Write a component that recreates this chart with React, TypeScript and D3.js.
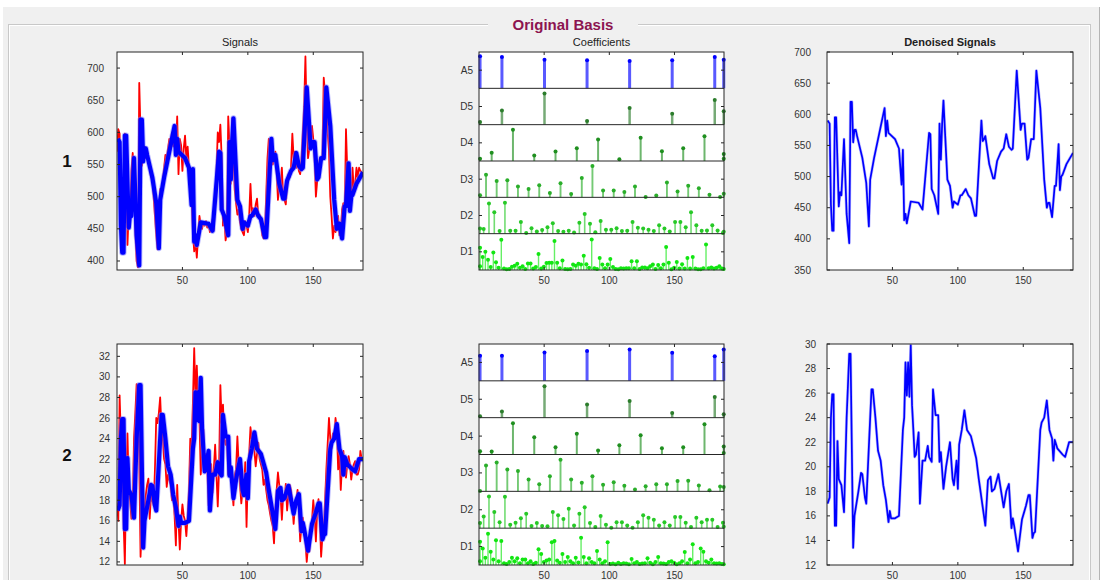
import React from "react";
import * as d3 from "d3";

// ---- data ----
const xTicks = [50, 100, 150];
const xDomain = [0, 188];

const sig1Ticks = [400, 450, 500, 550, 600, 650, 700];
const sig1Domain = [386, 725];
const den1Ticks = [350, 400, 450, 500, 550, 600, 650, 700];
const den1Domain = [350, 700];

const sig2Ticks = [12, 14, 16, 18, 20, 22, 24, 26, 28, 30, 32];
const sig2Domain = [11.7, 33.2];
const den2Ticks = [12, 14, 16, 18, 20, 22, 24, 26, 28, 30];
const den2Domain = [12, 30];

// original (noisy) signals, one value per sample
const signal1 = [
  570, 605, 598, 470, 418, 430, 598, 585, 425, 478,
  462, 540, 568, 540, 445, 400, 390, 677, 600, 548,
  565, 578, 560, 572, 555, 545, 530, 528, 500, 470,
  440, 418, 470, 512, 500, 525, 545, 565, 560, 575,
  590, 585, 600, 578, 605, 570, 625, 535, 590, 580,
  540, 575, 595, 560, 578, 545, 520, 500, 445, 415,
  430, 405, 440, 470, 455, 450, 460, 455, 462, 452,
  458, 445, 450, 465, 448, 500, 540, 600, 585, 612,
  560, 455, 470, 432, 445, 625, 580, 520, 622, 560,
  510, 490, 472, 480, 460, 450, 445, 440, 462, 455,
  445, 470, 520, 475, 482, 470, 488, 497, 470, 472,
  460, 440, 435, 445, 500, 560, 590, 580, 575, 550,
  560, 570, 540, 495, 520, 510, 545, 500, 495, 488,
  520, 535, 530, 545, 598, 560, 570, 545, 555, 540,
  535, 560, 600, 640, 718, 620, 560, 575, 580, 610,
  590, 560, 500, 525, 540, 560, 555, 565, 685, 660,
  640, 600, 572, 500, 470, 435, 455, 445, 460, 470,
  440, 445, 480, 490, 470, 605, 540, 485, 500, 495,
  545, 510, 520, 545, 530, 545, 540, 538,
];

const signal2 = [
  17.7, 16.0, 28.2, 24.0, 26.0, 16.0, 11.8, 20.0, 24.5, 19.0,
  18.0, 16.2, 17.5, 24.0, 26.5, 29.3, 28.5, 22.0, 12.5, 15.5,
  16.0, 17.0, 18.5, 19.5, 20.1, 16.2, 18.5, 18.0, 17.5, 21.0,
  26.0, 25.5, 26.5, 28.0, 25.0, 24.0, 22.0, 21.5, 19.3, 20.5,
  20.0, 19.5, 18.0, 18.5, 16.5, 13.6, 19.5, 16.0, 13.2, 16.0,
  17.6, 16.5, 16.0, 14.5, 16.5, 19.0, 24.0, 23.0, 27.5, 32.8,
  28.0, 31.1, 27.0, 26.0, 20.5, 22.0, 24.9, 21.0, 22.5, 21.0,
  17.5, 20.0, 21.5, 18.7, 21.0, 23.4, 20.5, 17.4, 21.0, 29.2,
  25.5, 27.3, 24.0, 23.4, 24.0, 20.5, 21.0, 21.3, 19.0, 17.5,
  20.5, 21.0, 24.2, 21.5, 19.5, 17.7, 19.0, 18.5, 21.7, 15.4,
  20.5, 22.5, 25.1, 24.0, 24.5, 22.8, 21.3, 22.5, 23.6, 22.0,
  21.5, 21.0, 19.5, 20.0, 19.0, 18.0, 17.5, 16.7, 16.0, 15.5,
  13.8, 17.0, 19.0, 20.7, 19.5, 18.5, 16.1, 18.5, 18.0, 19.6,
  17.0, 18.5, 19.5, 19.0, 17.5, 15.7, 17.5, 18.0, 19.0, 17.0,
  14.0, 15.5, 16.3, 15.0, 14.0, 12.0, 13.5, 13.0, 15.0, 16.0,
  18.0, 16.5, 14.0, 17.0, 18.1, 16.0, 12.5, 14.5, 15.0, 18.0,
  21.0, 23.5, 26.0, 24.0, 23.0, 24.5, 24.0, 26.0, 25.0, 21.0,
  23.0, 19.0, 21.5, 22.8, 21.0, 20.2, 21.5, 22.3, 21.5, 20.0,
  21.0, 21.5, 21.8, 20.5, 20.5, 21.0, 22.8, 22.0,
];

// denoised signals, [sample, value] vertices
const denoised1: [number, number][] = [
  [0.5, 590], [2, 585], [3, 455], [4, 413], [5, 413], [6, 595], [7, 595], [9, 452],
  [10, 475], [11, 470], [13, 560], [15, 440], [17, 393], [18, 620], [19, 620], [20, 555],
  [21, 575], [22, 575], [23, 565], [27, 530], [30, 490], [32, 420], [33, 495], [36, 530],
  [40, 570], [44, 610], [45, 565], [46, 590], [47, 570], [52, 560], [55, 545], [57, 487],
  [58, 543], [59, 430], [60, 440], [61, 425], [64, 460], [70, 458], [73, 447], [78, 570],
  [79, 568], [80, 480], [82, 470], [85, 440], [86, 585], [87, 527], [88, 585], [89, 622],
  [92, 495], [94, 485], [96, 450], [97, 460], [100, 455], [102, 470], [103, 470], [106, 480],
  [108, 470], [110, 465], [113, 437], [114, 437], [118, 590], [119, 557], [120, 560], [121, 565],
  [124, 520], [127, 497], [128, 497], [130, 525], [133, 540], [135, 545], [137, 568], [139, 548],
  [141, 543], [142, 545], [145, 670], [148, 575], [149, 585], [151, 585], [153, 527], [154, 530],
  [156, 560], [158, 560], [160, 670], [163, 610], [166, 495], [168, 450], [169, 458], [170, 458],
  [172, 435], [174, 485], [175, 485], [177, 552], [178, 478], [179, 500], [180, 503], [183, 520],
  [188, 538],
];

const denoised2: [number, number][] = [
  [0.5, 17.0], [2, 17.5], [3, 24.0], [4, 25.9], [5, 25.9], [6, 15.2], [7, 15.2], [8, 22.1],
  [9, 19.0], [11, 18.5], [13, 16.3], [15, 24.0], [17, 29.2], [18, 29.2], [20, 13.4], [21, 16.0],
  [24, 18.0], [26, 19.5], [27, 19.4], [29, 17.5], [30, 17.0], [34, 26.3], [35, 26.3], [37, 24.0],
  [39, 21.3], [41, 20.5], [43, 18.5], [45, 17.3], [47, 15.5], [48, 16.4], [49, 15.8], [52, 15.8],
  [55, 16.0], [58, 23.0], [59, 24.0], [60, 28.5], [61, 25.8], [62, 28.5], [63, 25.7], [64, 29.9],
  [65, 25.0], [66, 23.0], [67, 20.8], [68, 21.0], [70, 22.8], [71, 17.0], [73, 20.5], [75, 20.5],
  [77, 21.7], [78, 20.8], [80, 20.4], [81, 26.3], [83, 24.2], [85, 24.2], [86, 20.4], [87, 21.2],
  [89, 18.2], [91, 20.0], [94, 22.0], [96, 19.0], [97, 18.5], [99, 20.5], [100, 18.2], [101, 21.8],
  [103, 23.0], [105, 24.6], [107, 23.0], [110, 22.5], [114, 20.7], [116, 19.0], [121, 15.2], [123, 18.9],
  [125, 19.2], [126, 18.0], [128, 18.2], [131, 19.4], [135, 16.7], [137, 18.0], [139, 18.6], [141, 15.0],
  [142, 15.8], [143, 15.2], [146, 13.1], [149, 15.7], [152, 16.8], [154, 17.7], [155, 17.7], [157, 14.2],
  [158, 14.6], [159, 14.7], [163, 23.0], [164, 23.6], [166, 24.0], [168, 25.4], [170, 23.0], [172, 22.3],
  [173, 20.5], [174, 22.2], [176, 21.5], [180, 21.0], [182, 20.8], [185, 22.0], [188, 22.0],
];

// wavelet coefficient magnitudes, relative to each row's height
const levelNames = ["A5", "D5", "D4", "D3", "D2", "D1"];

const a5Coef1 = [0.88, 0.86, 0.79, 0.77, 0.75, 0.77, 0.86, 0.79];
const d5Coef1 = [0.07, 0.39, 0.86, 0.1, 0.46, 0.3, 0.68, 0.37];
const d4Coef1 = [0.06, 0.23, 0.86, 0.15, 0.26, 0.35, 0.59, 0.05, 0.64, 0.27, 0.35, 0.68, 0.19, 0.06];
const d3Coef1 = [
  0.06, 0.62, 0.45, 0.47, 0.3, 0.23, 0.33, 0.12, 0.39, 0.09, 0.53, 0.86, 0.19,
  0.19, 0.15, 0.3, 0.01, 0.05, 0.41, 0.16, 0.32, 0.25, 0.07, 0.01, 0.1,
];
const d2Coef1 = [
  0.14, 0.13, 0.83, 0.59, 0.07, 0.85, 0.08, 0.08, 0.32, 0.02, 0.15, 0.06, 0.1, 0.18, 0.29, 0.07,
  0.05, 0.08, 0.03, 0.3, 0.54, 0.27, 0.04, 0.35, 0.11, 0.11, 0.15, 0.07, 0.08, 0.32, 0.16, 0.14,
  0.11, 0.07, 0.23, 0.14, 0.06, 0.32, 0.32, 0.18, 0.59, 0.23, 0.08, 0.09, 0.23, 0.09, 0.02, 0.05,
];
const d1Coef1 = [
  0.1, 0.61, 0.36, 0.5, 0.28, 0.08, 0.48, 0.21, 0.06, 0.83, 0.04, 0.02, 0.03, 0.09, 0.12, 0.17,
  0.06, 0.1, 0.03, 0.18, 0.18, 0.04, 0.08, 0.44, 0.04, 0.09, 0.19, 0.2, 0.2, 0.8, 0.2, 0.05,
  0.26, 0.03, 0.02, 0.03, 0.15, 0.12, 0.17, 0.15, 0.39, 0.16, 0.06, 0.84, 0.05, 0.03, 0.33, 0.15,
  0.05, 0.15, 0.3, 0.08, 0.03, 0.02, 0.05, 0.04, 0.05, 0.05, 0.24, 0.05, 0.24, 0.03, 0.07, 0.07,
  0.05, 0.1, 0.15, 0.03, 0.14, 0.05, 0.15, 0.63, 0.2, 0.02, 0.06, 0.22, 0.04, 0.16, 0.04, 0.33,
  0.04, 0.36, 0.04, 0.02, 0.02, 0.05, 0.7, 0.05, 0.07, 0.04, 0.06, 0.1, 0.04, 0.03,
];

const a5Coef2 = [0.68, 0.68, 0.77, 0.81, 0.85, 0.76, 0.67, 0.85];
const d5Coef2 = [0.04, 0.17, 0.85, 0.36, 0.45, 0.13, 0.56, 0.09];
const d4Coef2 = [0.09, 0.08, 0.85, 0.47, 0.2, 0.56, 0.11, 0.25, 0.52, 0.17, 0.2, 0.82, 0.22, 0.04];
const d3Coef2 = [
  0.01, 0.7, 0.78, 0.59, 0.55, 0.32, 0.19, 0.41, 0.86, 0.32, 0.23, 0.41, 0.18,
  0.25, 0.15, 0.05, 0.14, 0.19, 0.19, 0.28, 0.29, 0.16, 0.03, 0.13, 0.12,
];
const d2Coef2 = [
  0.14, 0.32, 0.86, 0.44, 0.16, 0.85, 0.09, 0.15, 0.27, 0.39, 0.06, 0.14, 0.06, 0.05, 0.44, 0.35,
  0.25, 0.53, 0.07, 0.39, 0.57, 0.14, 0.03, 0.33, 0.09, 0.01, 0.16, 0.16, 0.07, 0.01, 0.16, 0.35,
  0.28, 0.23, 0.07, 0.16, 0.07, 0.3, 0.3, 0.15, 0.03, 0.28, 0.16, 0.23, 0.23, 0.03, 0.15, 0.04,
];
const d1Coef2 = [
  0.1, 0.63, 0.45, 0.2, 0.85, 0.36, 0.15, 0.67, 0.1, 0.65, 0.05, 0.03, 0.08, 0.2, 0.1, 0.18,
  0.05, 0.15, 0.15, 0.05, 0.1, 0.03, 0.06, 0.43, 0.3, 0.08, 0.12, 0.15, 0.62, 0.65, 0.12, 0.06,
  0.3, 0.08, 0.22, 0.1, 0.05, 0.2, 0.07, 0.74, 0.22, 0.05, 0.18, 0.08, 0.05, 0.38, 0.15, 0.05,
  0.1, 0.62, 0.03, 0.04, 0.02, 0.06, 0.03, 0.05, 0.04, 0.02, 0.16, 0.05, 0.08, 0.03, 0.04, 0.05,
  0.18, 0.06, 0.02, 0.08, 0.22, 0.05, 0.04, 0.03, 0.08, 0.1, 0.06, 0.02, 0.05, 0.1, 0.35, 0.05,
  0.15, 0.56, 0.05, 0.08, 0.45, 0.36, 0.1, 0.06, 0.15, 0.05, 0.04, 0.05, 0.03, 0.02,
];

// where the k-th coefficient of each level sits along the signal
const levelStart = [-15.06, -15.06, -6.6, -2.77, -0.5, -1.24];
const levelStep = [32.66, 32.66, 16.33, 8.165, 4.08, 2.04];
const levelColor = ["#0000ff", "#2c7d2c", "#1f8f1f", "#2aae2a", "#27c927", "#12e612"];
const levelWidth = [3, 2.5, 2, 1.9, 1.6, 1.4];

const coefs1 = [a5Coef1, d5Coef1, d4Coef1, d3Coef1, d2Coef1, d1Coef1];
const coefs2 = [a5Coef2, d5Coef2, d4Coef2, d3Coef2, d2Coef2, d1Coef2];

// ---- layout ----
const W = 1110;
const H = 580;
const font = "'Liberation Sans', Arial, Helvetica, sans-serif";
const ink = "#262626";
const rows = [
  { top: 52, bottom: 270, label: "1" },
  { top: 344, bottom: 565, label: "2" },
];
const cols = {
  sig: [117, 363],
  coef: [479, 724],
  den: [827, 1073],
};

const TL = 3; // tick length, inward

function Box({ x0, x1, y0, y1, xs, ys, yTicks, gap = 5 }: any) {
  return (
    <g>
      {xTicks.map((t) => (
        <g key={"x" + t}>
          <line x1={xs(t)} x2={xs(t)} y1={y1} y2={y1 - TL} stroke={ink} />
          <line x1={xs(t)} x2={xs(t)} y1={y0} y2={y0 + TL} stroke={ink} />
          <text x={xs(t)} y={y1 + 14} textAnchor="middle" fontSize={10} fill="#333" fontFamily={font}>
            {t}
          </text>
        </g>
      ))}
      {yTicks &&
        yTicks.map((t: number) => (
          <g key={"y" + t}>
            <line x1={x0} x2={x0 + TL} y1={ys(t)} y2={ys(t)} stroke={ink} />
            <line x1={x1} x2={x1 - TL} y1={ys(t)} y2={ys(t)} stroke={ink} />
            <text x={x0 - gap} y={ys(t) + 3.5} textAnchor="end" fontSize={10} fill="#333" fontFamily={font}>
              {t}
            </text>
          </g>
        ))}
      <rect x={x0} y={y0} width={x1 - x0} height={y1 - y0} fill="none" stroke={ink} strokeWidth={1} />
    </g>
  );
}

function SignalPanel({ row, raw, clean, yDomain, yTicks, title, id, gap }: any) {
  const [x0, x1] = cols.sig;
  const y0 = row.top;
  const y1 = row.bottom;
  const xs = d3.scaleLinear().domain(xDomain).range([x0, x1]);
  const ys = d3.scaleLinear().domain(yDomain).range([y1, y0]);
  const rawLine = d3
    .line<number>()
    .x((d, i) => xs(i))
    .y((d) => ys(d));
  const cleanLine = d3
    .line<[number, number]>()
    .x((d) => xs(d[0]))
    .y((d) => ys(d[1]));
  return (
    <g>
      <rect x={x0} y={y0} width={x1 - x0} height={y1 - y0} fill="#fff" />
      <clipPath id={id}>
        <rect x={x0} y={y0} width={x1 - x0} height={y1 - y0} />
      </clipPath>
      <g clipPath={`url(#${id})`}>
        <path d={rawLine(raw) || ""} fill="none" stroke="#ff0000" strokeWidth={1.8} strokeLinejoin="round" />
        <path d={cleanLine(clean) || ""} fill="none" stroke="#7070ff" strokeWidth={6} strokeOpacity={0.5} strokeLinejoin="round" />
        <path d={cleanLine(clean) || ""} fill="none" stroke="#0000ff" strokeWidth={4.2} strokeLinejoin="round" />
      </g>
      <Box x0={x0} x1={x1} y0={y0} y1={y1} xs={xs} ys={ys} yTicks={yTicks} gap={gap} />
      {title && (
        <text x={(x0 + x1) / 2} y={y0 - 6} textAnchor="middle" fontSize={11} fill="#222" fontFamily={font}>
          {title}
        </text>
      )}
    </g>
  );
}

function DenoisedPanel({ row, clean, yDomain, yTicks, title, id, gap }: any) {
  const [x0, x1] = cols.den;
  const y0 = row.top;
  const y1 = row.bottom;
  const xs = d3.scaleLinear().domain(xDomain).range([x0, x1]);
  const ys = d3.scaleLinear().domain(yDomain).range([y1, y0]);
  const cleanLine = d3
    .line<[number, number]>()
    .x((d) => xs(d[0]))
    .y((d) => ys(d[1]));
  return (
    <g>
      <rect x={x0} y={y0} width={x1 - x0} height={y1 - y0} fill="#fff" />
      <clipPath id={id}>
        <rect x={x0} y={y0} width={x1 - x0} height={y1 - y0} />
      </clipPath>
      <g clipPath={`url(#${id})`}>
        <path d={cleanLine(clean) || ""} fill="none" stroke="#8080ff" strokeWidth={3} strokeOpacity={0.5} strokeLinejoin="round" />
        <path d={cleanLine(clean) || ""} fill="none" stroke="#0000ff" strokeWidth={1.7} strokeLinejoin="round" />
      </g>
      <Box x0={x0} x1={x1} y0={y0} y1={y1} xs={xs} ys={ys} yTicks={yTicks} gap={gap} />
      {title && (
        <text x={(x0 + x1) / 2} y={y0 - 6} textAnchor="middle" fontSize={11} fontWeight="bold" fill="#222" fontFamily={font}>
          {title}
        </text>
      )}
    </g>
  );
}

function CoefPanel({ row, coefs, title }: any) {
  const [x0, x1] = cols.coef;
  const y0 = row.top;
  const y1 = row.bottom;
  const xs = d3.scaleLinear().domain(xDomain).range([x0, x1]);
  const band = d3.scaleBand<string>().domain(levelNames).range([y0, y1]).paddingInner(0).paddingOuter(0);
  const h = band.bandwidth();
  return (
    <g>
      <rect x={x0} y={y0} width={x1 - x0} height={y1 - y0} fill="#fff" />
      {levelNames.map((name, li) => {
        const top = band(name)!;
        const ys = d3.scaleLinear().domain([0, 1]).range([top + h, top]);
        const vals: number[] = coefs[li];
        return (
          <g key={name}>
            {vals.map((v, k) => {
              const pos = Math.max(0.8, Math.min(187.8, levelStart[li] + k * levelStep[li]));
              const cx = xs(pos);
              return (
                <g key={k}>
                  <line x1={cx} x2={cx} y1={ys(0)} y2={ys(v)} stroke={levelColor[li]} strokeWidth={levelWidth[li]} strokeOpacity={0.65} />
                  <circle cx={cx} cy={ys(v)} r={2} fill={levelColor[li]} />
                </g>
              );
            })}
            <line x1={x0} x2={x0 + TL} y1={top + h / 2} y2={top + h / 2} stroke={ink} />
            <line x1={x1} x2={x1 - TL} y1={top + h / 2} y2={top + h / 2} stroke={ink} />
            <text x={x0 - 6} y={top + h / 2 + 3.5} textAnchor="end" fontSize={10} fill="#333" fontFamily={font}>
              {name}
            </text>
            {li > 0 && <line x1={x0} x2={x1} y1={top} y2={top} stroke={ink} strokeWidth={1} />}
          </g>
        );
      })}
      <Box x0={x0} x1={x1} y0={y0} y1={y1} xs={xs} ys={null} yTicks={null} />
      {title && (
        <text x={(x0 + x1) / 2} y={y0 - 6} textAnchor="middle" fontSize={11} fill="#222" fontFamily={font}>
          {title}
        </text>
      )}
    </g>
  );
}

export default function App() {
  return (
    <svg width={W} height={H} style={{ position: "absolute", left: 0, top: 0, background: "#fff" }}>
      <rect x={3} y={7} width={1096} height={H - 7} fill="#f0f0f0" />
      <line x1={1099.5} x2={1099.5} y1={7} y2={H} stroke="#b4b4b4" strokeWidth={1} />
      <rect x={8.5} y={24.5} width={1082} height={H} fill="none" stroke="#c8c8c8" />
      <rect x={9.5} y={25.5} width={1080} height={H} fill="none" stroke="#ffffff" />
      <rect x={488} y={16} width={150} height={16} fill="#f0f0f0" />
      <text x={563} y={29.5} textAnchor="middle" fontSize={15} fontWeight="bold" fill="#8c1450" fontFamily={font}>
        Original Basis
      </text>

      <SignalPanel row={rows[0]} raw={signal1} clean={denoised1} yDomain={sig1Domain} yTicks={sig1Ticks} title="Signals" id="c1" gap={13} />
      <CoefPanel row={rows[0]} coefs={coefs1} title="Coefficients" />
      <DenoisedPanel row={rows[0]} clean={denoised1} yDomain={den1Domain} yTicks={den1Ticks} title="Denoised Signals" id="c2" gap={16} />

      <SignalPanel row={rows[1]} raw={signal2} clean={denoised2} yDomain={sig2Domain} yTicks={sig2Ticks} id="c3" gap={7} />
      <CoefPanel row={rows[1]} coefs={coefs2} />
      <DenoisedPanel row={rows[1]} clean={denoised2} yDomain={den2Domain} yTicks={den2Ticks} id="c4" gap={11} />

      {rows.map((r) => (
        <text key={r.label} x={67} y={(r.top + r.bottom) / 2 + 6} textAnchor="middle" fontSize={17} fontWeight="bold" fill="#111" fontFamily={font}>
          {r.label}
        </text>
      ))}
    </svg>
  );
}
